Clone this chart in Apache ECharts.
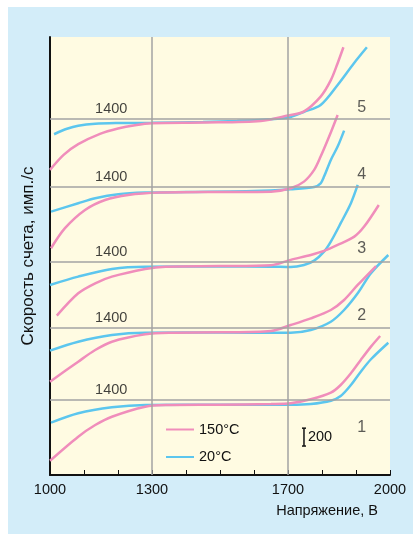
<!DOCTYPE html>
<html>
<head>
<meta charset="utf-8">
<script src="https://cdn.jsdelivr.net/npm/echarts@6/dist/echarts.min.js"></script>
<style>
  html, body { margin: 0; padding: 0; background: #fff; }
  #bg { position: absolute; left: 8px; top: 7px; width: 405px; height: 527px; background: #d3edf9; }
  #main { position: absolute; left: 0; top: 0; width: 413px; height: 534px; }
</style>
</head>
<body>
<div id="bg"></div>
<div id="main"></div>
<script>
// напряжение (В) -> скорость счета (имп./с), кривые 1..5
var hot1 = [[1000,713],[1083,982],[1133,1112],[1182,1205],[1280,1317],[1340,1336],[1500,1340],[1650,1347],[1708,1355],[1767,1400],[1826,1474],[1855,1560],[1885,1691],[1914,1840],[1944,1989],[1971,2108]];
var cold1 = [[1003,1138],[1083,1243],[1182,1310],[1280,1336],[1500,1338],[1708,1338],[1767,1347],[1826,1384],[1855,1437],[1885,1560],[1914,1709],[1944,1848],[1995,2033]];
var hot2 = [[1000,796],[1083,1020],[1133,1150],[1182,1243],[1280,1326],[1350,1344],[1500,1348],[1650,1363],[1708,1430],[1767,1504],[1826,1598],[1865,1710],[1905,1878],[1959,2090]];
var cold2 = [[1000,1143],[1083,1243],[1182,1318],[1280,1344],[1500,1345],[1708,1344],[1767,1374],[1826,1467],[1865,1598],[1905,1785],[1944,2009],[1995,2213]];
var hot3 = [[1020,796],[1083,1046],[1133,1158],[1182,1232],[1280,1318],[1340,1344],[1500,1350],[1650,1360],[1708,1420],[1767,1475],[1806,1520],[1846,1587],[1895,1680],[1924,1792],[1967,2034]];
var cold3 = [[1000,1139],[1083,1232],[1182,1318],[1280,1344],[1500,1345],[1650,1344],[1708,1340],[1747,1363],[1777,1411],[1806,1512],[1826,1624],[1855,1830],[1885,2054],[1905,2258]];
var hot4 = [[1003,711],[1044,935],[1103,1139],[1162,1251],[1230,1307],[1324,1333],[1500,1340],[1650,1344],[1708,1382],[1747,1456],[1777,1587],[1796,1736],[1821,1960],[1846,2202]];
var cold4 = [[1003,1120],[1083,1214],[1133,1270],[1201,1315],[1280,1333],[1400,1340],[1600,1350],[1708,1371],[1777,1395],[1796,1437],[1806,1512],[1826,1699],[1846,1848],[1865,2027]];
var hot5 = [[1000,822],[1040,990],[1083,1110],[1147,1225],[1200,1285],[1250,1322],[1300,1344],[1450,1352],[1620,1370],[1700,1430],[1746,1474],[1796,1642],[1826,1826],[1846,2016],[1863,2194]];
var cold5 = [[1012,1221],[1050,1282],[1083,1316],[1133,1338],[1200,1346],[1300,1350],[1450,1358],[1550,1370],[1650,1389],[1708,1415],[1746,1470],[1796,1549],[1846,1773],[1894,2016],[1932,2194]];

var hotCurves = [hot1, hot2, hot3, hot4, hot5];
var coldCurves = [cold1, cold2, cold3, cold4, cold5];
// сдвиг каждой кривой по вертикали
var offsets = [-553, 248, 987, 1826, 2591];
var refLevel = 1400;
var curveNames = ['1', '2', '3', '4', '5'];
var curveNameY = [526, 1779, 2529, 3357, 4107];
var curveNameX = 1917;
var refLabelX = 1180;
var xLabels = [1000, 1300, 1700, 2000];
var xGrid = [1300, 1700];
// масштабная метка
var barVolt = 1747, barBase = 324, barSize = 200;

var FONT = "'Liberation Sans', Arial, sans-serif";
var PINK = '#f08dbb';
var BLUE = '#5cc6ee';

var chart = echarts.init(document.getElementById('main'));

var series = [];
series.push({
  type: 'line',
  data: [],
  z: 1,
  silent: true,
  markLine: {
    silent: true,
    symbol: 'none',
    label: { show: false },
    lineStyle: { color: '#a3a3a3', width: 1.5, type: 'solid' },
    data: offsets.map(function (o) { return { yAxis: o + refLevel }; })
      .concat(xGrid.map(function (v) { return { xAxis: v }; }))
  }
});
coldCurves.forEach(function (c, i) {
  series.push({
    name: '20°C',
    type: 'line',
    z: 3,
    symbol: 'none',
    smooth: 0.3,
    lineStyle: { color: BLUE, width: 2.5 },
    itemStyle: { color: BLUE },
    data: c.map(function (p) { return [p[0], p[1] + offsets[i]]; })
  });
});
hotCurves.forEach(function (c, i) {
  series.push({
    name: '150°C',
    type: 'line',
    z: 4,
    symbol: 'none',
    smooth: 0.3,
    lineStyle: { color: PINK, width: 2.5 },
    itemStyle: { color: PINK },
    data: c.map(function (p) { return [p[0], p[1] + offsets[i]]; })
  });
});
series.push({
  type: 'scatter',
  symbolSize: 0,
  z: 5,
  silent: true,
  label: {
    show: true, position: 'top', distance: 2,
    formatter: String(refLevel),
    fontSize: 14.5, fontFamily: FONT, color: '#111'
  },
  data: offsets.map(function (o) { return [refLabelX, o + refLevel]; })
});
series.push({
  type: 'scatter',
  symbolSize: 0,
  z: 5,
  silent: true,
  label: {
    show: true, position: 'inside',
    formatter: function (p) { return p.value[2]; },
    fontSize: 16, fontFamily: FONT, color: '#333'
  },
  data: curveNames.map(function (n, k) { return [curveNameX, curveNameY[k], n]; })
});
series.push({
  type: 'custom',
  z: 5,
  silent: true,
  renderItem: function (params, api) {
    var top = api.coord([api.value(0), api.value(1) + api.value(2)]);
    var bot = api.coord([api.value(0), api.value(1)]);
    var st = { stroke: '#111', lineWidth: 1.5 };
    return {
      type: 'group',
      children: [
        { type: 'line', shape: { x1: top[0], y1: top[1], x2: bot[0], y2: bot[1] }, style: st },
        { type: 'line', shape: { x1: top[0] - 2, y1: top[1], x2: top[0] + 2, y2: top[1] }, style: st },
        { type: 'line', shape: { x1: bot[0] - 2, y1: bot[1], x2: bot[0] + 2, y2: bot[1] }, style: st },
        { type: 'text', style: {
            text: String(api.value(2)), x: top[0] + 4, y: (top[1] + bot[1]) / 2,
            verticalAlign: 'middle', fontSize: 14.5, fontFamily: FONT, fill: '#111' } }
      ]
    };
  },
  data: [[barVolt, barBase, barSize]]
});

var option = {
  animation: false,
  grid: {
    left: 50, top: 37, width: 340, height: 438,
    show: true, backgroundColor: '#fffbe2', borderWidth: 0
  },
  legend: {
    data: ['150°C', '20°C'],
    orient: 'vertical',
    left: 165, top: 422,
    padding: 0,
    itemWidth: 28, itemHeight: 14, itemGap: 12.5,
    itemStyle: { opacity: 0 },
    textStyle: { fontSize: 14.5, fontFamily: FONT, color: '#111' }
  },
  xAxis: {
    type: 'value',
    min: 1000, max: 2000, interval: 100,
    name: 'Напряжение, В',
    nameLocation: 'end',
    nameGap: -12,
    nameTextStyle: { fontSize: 14.5, fontFamily: FONT, color: '#111', align: 'right', verticalAlign: 'top', padding: [28, 0, 0, 0] },
    axisLine: { show: true, lineStyle: { color: '#111', width: 2 } },
    axisTick: { show: true, inside: true, length: 5, lineStyle: { color: '#111', width: 1 } },
    axisLabel: {
      margin: 7, fontSize: 14.5, fontFamily: FONT, color: '#111',
      formatter: function (v) { return xLabels.indexOf(v) >= 0 ? v : ''; }
    },
    splitLine: { show: false }
  },
  yAxis: {
    type: 'value',
    min: 0, max: 4900,
    name: 'Скорость счета, имп./с',
    nameLocation: 'middle',
    nameGap: 13,
    nameTextStyle: { fontSize: 17, fontFamily: FONT, color: '#111' },
    axisLine: { show: true, lineStyle: { color: '#111', width: 2 } },
    axisTick: { show: false },
    axisLabel: { show: false },
    splitLine: { show: false }
  },
  series: series
};
chart.setOption(option);
</script>
</body>
</html>
